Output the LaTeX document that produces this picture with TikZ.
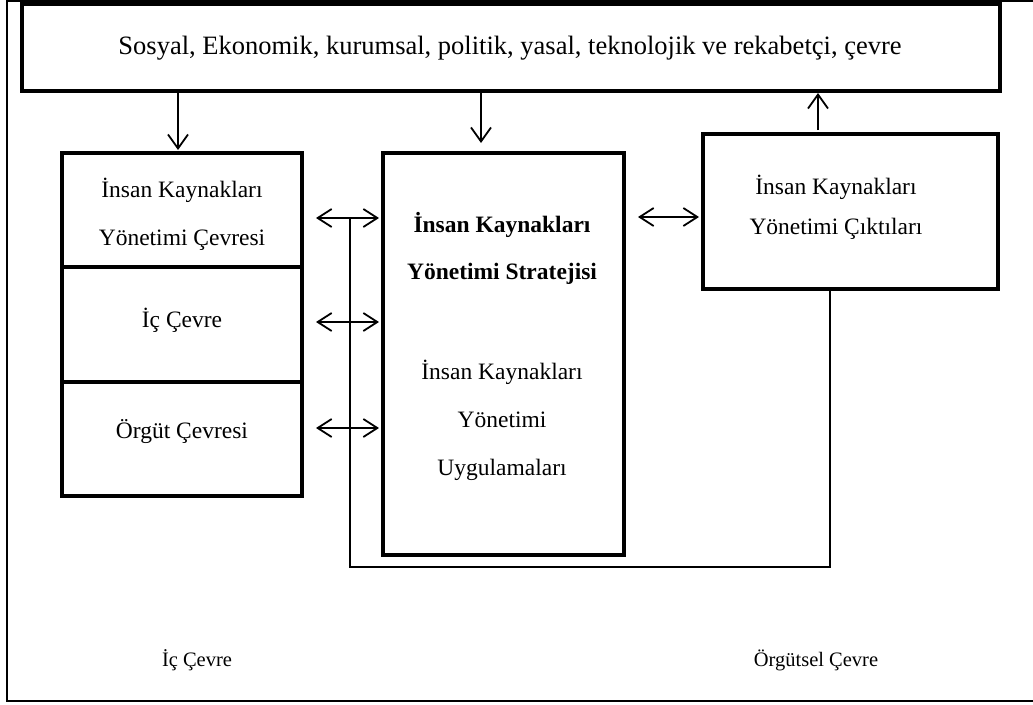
\documentclass[tikz,border=0pt]{standalone}
\usepackage{fontspec}
\setmainfont{Liberation Serif}
\usetikzlibrary{arrows.meta}
\begin{document}
\begin{tikzpicture}[x=1pt,y=-1pt,
  thickbox/.style={draw, line width=4pt, rectangle, inner sep=0pt},
  txt/.style={font=\fontsize{23.5}{48}\selectfont, align=center, inner sep=0pt},
  btxt/.style={font=\fontsize{23.5}{47}\selectfont\bfseries, align=center, inner sep=0pt},
  ltxt/.style={font=\fontsize{20.5}{24}\selectfont, inner sep=0pt},
  arr/.style={line width=1.8pt, -{Straight Barb[length=14pt,width=20pt,line width=1.8pt]}},
  darr/.style={line width=1.8pt, {Straight Barb[length=14pt,width=18pt,line width=1.8pt]}-{Straight Barb[length=14pt,width=18pt,line width=1.8pt]}},
  fbline/.style={line width=1.5pt}
]
\useasboundingbox (0,0) rectangle (1033,704);
% outer frame
\draw[line width=2pt] (1033,1) -- (7,1) -- (7,701) -- (1033,701);

% top box
\node[thickbox, minimum width=978pt, minimum height=87pt] (top) at (511,47.5) {};
\node[font=\fontsize{26.5}{30}\selectfont, inner sep=0pt] (toptxt) at (510,48) {Sosyal, Ekonomik, kurumsal, politik, yasal, teknolojik ve rekabetçi, çevre};

% left box
\node[thickbox, minimum width=240pt, minimum height=114pt] (lb1) at (182,210) {};
\node[thickbox, minimum width=240pt, minimum height=115pt] (lb2) at (182,324.5) {};
\node[thickbox, minimum width=240pt, minimum height=114pt] (lb3) at (182,439) {};
\node[txt] (lb1t) at (182,214) {İnsan Kaynakları\\Yönetimi Çevresi};
\node[txt] (lb2t) at (182,320) {İç Çevre};
\node[txt] (lb3t) at (182,432) {Örgüt Çevresi};

% center box
\node[thickbox, minimum width=241pt, minimum height=402pt] (ctr) at (503.5,354) {};
\node[btxt] (ctrb) at (502,248.5) {İnsan Kaynakları\\Yönetimi Stratejisi};
\node[txt] (ctrn) at (502,420) {İnsan Kaynakları\\Yönetimi\\Uygulamaları};

% right box
\node[thickbox, minimum width=295pt, minimum height=155pt] (rb) at (850.5,211.5) {};
\node[font=\fontsize{23.5}{40}\selectfont, align=center, inner sep=0pt] (rbt) at (836,207) {İnsan Kaynakları\\Yönetimi Çıktıları};

% bottom labels
\node[ltxt] (ic) at (197,660) {İç Çevre};
\node[ltxt] (org) at (816,660) {Örgütsel Çevre};

% vertical arrows
\draw[arr] ([xshift=-4pt]top.south -| lb1.north) -- ([xshift=-4pt,yshift=1pt]lb1.north);
\draw[arr] ([xshift=-22.5pt]top.south -| ctr.north) -- ([xshift=-22.5pt,yshift=8pt]ctr.north);
\draw[arr] ([xshift=-32.5pt,yshift=2pt]rb.north) -- ([xshift=-32.5pt]top.south -| rb.north);

% horizontal double arrows
\coordinate (r1) at (0,218);
\coordinate (r2) at (0,322);
\coordinate (r3) at (0,428);
\coordinate (r4) at (0,217);
\draw[darr, shorten <=12pt, shorten >=2pt] (lb1.east |- r1) -- (ctr.west |- r1);
\draw[darr, shorten <=12pt, shorten >=2pt] (lb2.east |- r2) -- (ctr.west |- r2);
\draw[darr, shorten <=12pt, shorten >=2pt] (lb3.east |- r3) -- (ctr.west |- r3);
\draw[darr, shorten <=12pt, shorten >=2pt] (ctr.east |- r4) -- (rb.west |- r4);

% feedback line
\coordinate (fbl) at (350,567);
\coordinate (fbr) at (830,567);
\draw[fbline] (fbl |- r1) -- (fbl) -- (fbr) -- (rb.south -| fbr);
\end{tikzpicture}
\end{document}
